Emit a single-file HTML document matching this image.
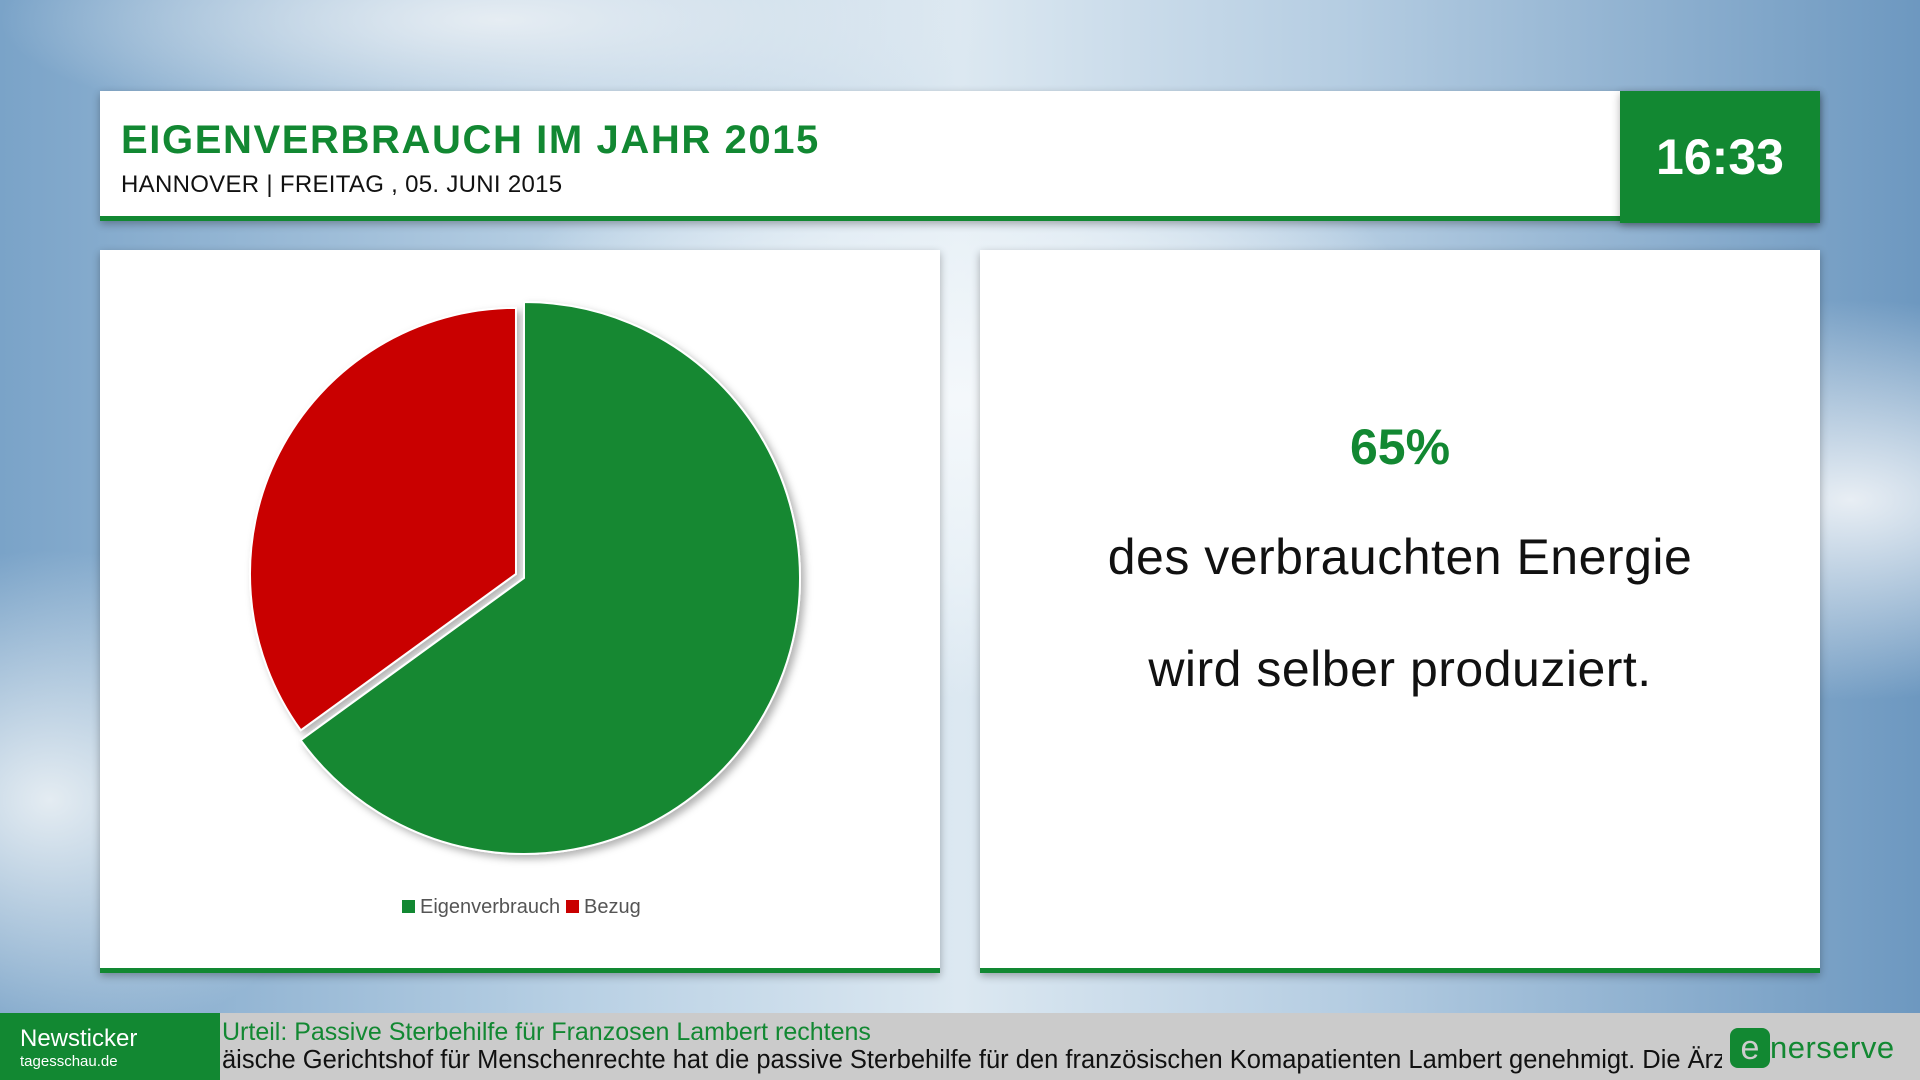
<!DOCTYPE html>
<html><head><meta charset="utf-8"><style>
*{margin:0;padding:0;box-sizing:border-box}
body{width:1920px;height:1080px;overflow:hidden;position:relative;font-family:"Liberation Sans","DejaVu Sans",sans-serif;
background:radial-gradient(ellipse 500px 300px at 960px 400px,#f4f8fb 0%,rgba(240,246,250,0.6) 60%,rgba(255,255,255,0) 100%),
radial-gradient(ellipse 400px 200px at 1850px 500px,#e8eef4 0%,rgba(255,255,255,0) 100%),
radial-gradient(ellipse 300px 250px at 50px 800px,#e4ecf2 0%,rgba(255,255,255,0) 100%),
radial-gradient(ellipse 500px 120px at 500px 20px,#e6edf3 0%,rgba(255,255,255,0) 100%),
linear-gradient(90deg,#7aa3c8 0%,#b8d0e4 30%,#dce8f1 50%,#b5cde2 70%,#6d98c0 100%)}
.card{position:absolute;background:#fff;box-shadow:0 3px 8px rgba(0,0,0,0.3)}
</style></head><body>
<div class="card" style="left:100px;top:91px;width:1720px;height:130px;border-bottom:5px solid #128832">
  <div style="position:absolute;left:21px;top:27px;font-size:40px;font-weight:bold;color:#128832;letter-spacing:1.6px">EIGENVERBRAUCH IM JAHR 2015</div>
  <div style="position:absolute;left:21px;top:80px;font-size:24px;color:#111;letter-spacing:0.3px">HANNOVER | FREITAG , 05. JUNI 2015</div>
</div>
<div style="position:absolute;left:1620px;top:91px;width:200px;height:132px;background:#128832;color:#fff;font-size:50px;font-weight:bold;text-align:center;line-height:132px;box-shadow:0 3px 8px rgba(0,0,0,0.3)">16:33</div>

<div class="card" style="left:100px;top:250px;width:840px;height:723px;border-bottom:5px solid #128832">
<svg id="pie" width="840" height="723">
<defs><filter id="sh" x="-20%" y="-20%" width="140%" height="140%"><feDropShadow dx="4" dy="4" stdDeviation="4" flood-color="#000" flood-opacity="0.3"/></filter></defs>
<g id="slices" filter="url(#sh)"></g>
<g>
<rect x="302" y="650" width="13" height="13" fill="#128832"/>
<text x="320" y="663" font-size="20" fill="#555" font-family="Liberation Sans, sans-serif">Eigenverbrauch</text>
<rect x="466" y="650" width="13" height="13" fill="#c90000"/>
<text x="484" y="663" font-size="20" fill="#555" font-family="Liberation Sans, sans-serif">Bezug</text>
</g>
</svg>
</div>

<div class="card" style="left:980px;top:250px;width:840px;height:723px;border-bottom:5px solid #128832;text-align:center">
  <div style="position:absolute;left:0;width:100%;top:168px;font-size:50px;font-weight:bold;color:#128832">65%</div>
  <div style="position:absolute;left:0;width:100%;top:278px;font-size:50px;color:#111;letter-spacing:0.5px">des verbrauchten Energie</div>
  <div style="position:absolute;left:0;width:100%;top:390px;font-size:50px;color:#111;letter-spacing:0.5px">wird selber produziert.</div>
</div>

<div style="position:absolute;left:0;top:1013px;width:1920px;height:67px;background:#cbcbcb;overflow:hidden">
  <div style="position:absolute;left:0;top:0;width:220px;height:67px;background:#128832;color:#fff;padding:12px 0 0 20px">
    <div style="font-size:24px">Newsticker</div><div style="font-size:15px">tagesschau.de</div></div>
  <div style="position:absolute;left:222px;top:5px;font-size:25px;color:#128832;white-space:nowrap">Urteil: Passive Sterbehilfe für Franzosen Lambert rechtens</div>
  <div style="position:absolute;left:222px;top:33px;width:1500px;overflow:hidden;font-size:25.5px;color:#111;white-space:nowrap">äische Gerichtshof für Menschenrechte hat die passive Sterbehilfe für den französischen Komapatienten Lambert genehmigt. Die Ärzte</div>
  <div style="position:absolute;left:1730px;top:15px;height:40px;white-space:nowrap">
    <span style="display:inline-block;width:40px;height:40px;background:#128832;border-radius:8px;color:#ccc;font-size:34px;text-align:center;line-height:40px;vertical-align:top">e</span><span style="font-size:31px;color:#128832;line-height:40px;vertical-align:top;font-family:'Liberation Sans',sans-serif;letter-spacing:0.5px">nerserve</span></div>
</div>
<script>
const categories=["Eigenverbrauch","Bezug"];
const values=[65,35];
const colors=["#128832","#c90000"];
const explode=[0,9];
const radii=[276,266];
const cx=424,cy=328;
const g=document.getElementById('slices');
const total=values.reduce((a,b)=>a+b,0);
let start=0;
function pt(a,rad,ox,oy){return [ox+rad*Math.sin(a),oy-rad*Math.cos(a)];}
values.forEach((v,i)=>{
  const r=radii[i];
  const ang=v/total*Math.PI*2, end=start+ang, mid=start+ang/2;
  const ox=cx+explode[i]*Math.sin(mid), oy=cy-explode[i]*Math.cos(mid);
  const p1=pt(start,r,ox,oy), p2=pt(end,r,ox,oy);
  const p=document.createElementNS('http://www.w3.org/2000/svg','path');
  p.setAttribute('d',`M${ox},${oy} L${p1[0]},${p1[1]} A${r},${r} 0 ${ang>Math.PI?1:0} 1 ${p2[0]},${p2[1]} Z`);
  p.setAttribute('fill',colors[i]);
  p.setAttribute('stroke','#fff');p.setAttribute('stroke-width','2');
  
  
  g.appendChild(p);
  start=end;
});
</script>
</body></html>
